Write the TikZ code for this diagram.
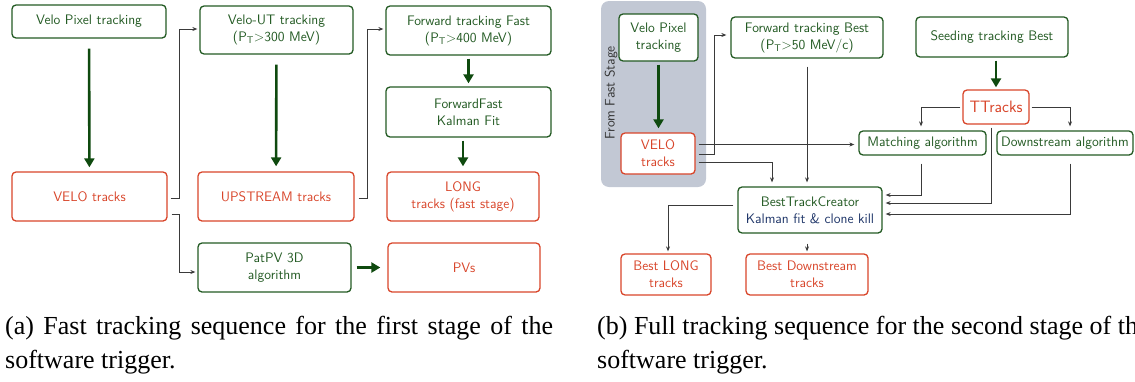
\documentclass[tikz,border=0pt]{standalone}
\usepackage{fontspec}
\newfontfamily\capfont{Liberation Serif}
\usetikzlibrary{arrows.meta}
\definecolor{grn}{HTML}{235A23}
\definecolor{rd}{HTML}{D8452A}
\definecolor{garrow}{HTML}{0F4A0F}
\definecolor{lineclr}{HTML}{3A3A3A}
\definecolor{navy}{HTML}{1E3568}
\definecolor{panelclr}{HTML}{C2C8D4}
\begin{document}
\begin{tikzpicture}[x=1pt,y=-1pt,
  every node/.style={font=\sffamily\fontsize{13.8}{17}\selectfont, align=center, inner sep=0pt},
  gbox/.style={draw=grn, text=grn, line width=1.3pt, rounded corners=4pt},
  rbox/.style={draw=rd, text=rd, line width=1.3pt, rounded corners=4pt},
  bigarrow/.style={draw=garrow, line width=2.6pt, -{Triangle[length=9pt,width=10pt]}},
  link/.style={draw=lineclr, line width=0.8pt, -{Stealth[length=5pt,width=4pt]}},
  caption/.style={font=\capfont\fontsize{26}{34}\selectfont, anchor=base west, align=left},
]
\useasboundingbox (0,0) rectangle (1135,381);

% ---------- (a) fast stage ----------
\node[gbox, minimum width=154pt, minimum height=33pt] (vpt) at (89,21.5) {Velo Pixel tracking};
\node[gbox, minimum width=153pt, minimum height=48pt] (vut) at (276.5,30) {Velo-UT tracking\\(P\textsubscript{T}>300 MeV)};
\node[gbox, minimum width=165pt, minimum height=49pt] (ftf) at (468.5,30.5) {Forward tracking Fast\\(P\textsubscript{T}>400 MeV)};
\node[gbox, minimum width=165pt, minimum height=50pt] (ffk) at (468.5,112) {ForwardFast\\Kalman Fit};
\node[rbox, minimum width=155pt, minimum height=49pt] (velo) at (89.5,196.5) {VELO tracks};
\node[rbox, minimum width=156pt, minimum height=49pt] (up) at (276,196.5) {UPSTREAM tracks};
\node[rbox, minimum width=152pt, minimum height=49pt] (long) at (463,196.5) {LONG\\tracks (fast stage)};
\node[gbox, minimum width=153pt, minimum height=49pt] (patpv) at (274.5,267.5) {PatPV 3D\\algorithm};
\node[rbox, minimum width=152pt, minimum height=49pt] (pvs) at (464,267.5) {PVs};

\draw[bigarrow, shorten <=10pt, shorten >=4pt] (vpt) -- (velo);
\draw[bigarrow, shorten <=10pt, shorten >=5pt] (vut) -- (up);
\draw[bigarrow, shorten <=3pt, shorten >=3pt] (ftf) -- (ffk);
\draw[bigarrow, shorten <=3pt, shorten >=5pt] (ffk.south -| long.north) -- (long.north);
\draw[bigarrow, shorten <=5pt, shorten >=7pt] (patpv) -- (pvs);

\draw[link, shorten >=2pt] ([shift={(3,1.5)}]velo.east) -- ++(9,0) |- ([shift={(0,-1)}]vut.west);
\draw[link, shorten >=2pt] ([shift={(4,17.5)}]velo.east) -- ++(8,0) |- ([shift={(0,4.5)}]patpv.west);
\draw[link, shorten >=2pt] ([shift={(4,1.5)}]up.east) -- ++(9,0) |- ([shift={(0,-1.5)}]ftf.west);

% ---------- (b) second stage ----------
\fill[panelclr, rounded corners=8pt] (601,1) rectangle (706,187);
\node[rotate=90, text=black!80] (from) at (611,93) {From Fast Stage};

\node[gbox, fill=white, minimum width=79pt, minimum height=47pt] (vpb) at (658.5,37.5) {Velo Pixel\\tracking};
\node[rbox, fill=white, minimum width=74pt, minimum height=41pt] (velob) at (658,153.5) {VELO\\tracks};
\node[gbox, minimum width=152pt, minimum height=41pt] (fwb) at (807,37.5) {Forward tracking Best\\(P\textsubscript{T}>50 MeV/c)};
\node[gbox, minimum width=152pt, minimum height=40pt] (seed) at (992,37) {Seeding tracking Best};
\node[rbox, minimum width=66pt, minimum height=34pt, font=\sffamily\fontsize{16.5}{18}\selectfont] (tt) at (996,107) {TTracks};
\node[gbox, minimum width=127pt, minimum height=24pt] (match) at (922.5,143) {Matching algorithm};
\node[gbox, minimum width=136pt, minimum height=24pt] (down) at (1065,143) {Downstream algorithm};
\node[gbox, minimum width=144pt, minimum height=46pt] (btc) at (810,210) {BestTrackCreator\\\textcolor{navy}{Kalman fit \& clone kill}};
\node[rbox, minimum width=90pt, minimum height=41pt] (bl) at (666,274.5) {Best LONG\\tracks};
\node[rbox, minimum width=122pt, minimum height=41pt] (bd) at (807,274.5) {Best Downstream\\tracks};

\draw[bigarrow, shorten <=3pt, shorten >=4pt] (vpb) -- (velob.north -| vpb.south);
\draw[bigarrow, shorten <=3pt, shorten >=2pt] (seed.south -| tt.north) -- (tt.north);

\coordinate (v1) at ([shift={(3,-9)}]velob.east);
\draw[link, shorten >=4pt] (v1) -- (v1 -| match.west);
\draw[link, shorten >=4pt] ([shift={(3,0.5)}]velob.east) -- ++(16,0) |- ([shift={(0,-2.5)}]fwb.west);
\draw[link, shorten >=4pt] ([shift={(3,8.5)}]velob.east) -| ([shift={(-38,0)}]btc.north);
\draw[link, shorten >=4pt] ([shift={(0,8)}]fwb.south) -- ([shift={(-3,0)}]btc.north);

\draw[link, shorten >=4pt] ([shift={(-2,0)}]tt.west) -| ([shift={(-1.5,0)}]match.north);
\draw[link, shorten >=4pt] ([shift={(2,0)}]tt.east) -| ([shift={(5,0)}]down.north);

\draw[link, shorten >=3pt] ([shift={(-1.5,8)}]match.south) |- ([shift={(0,-15)}]btc.east);
\draw[link, shorten >=3pt] ([shift={(-5,3)}]tt.south) |- ([shift={(0,-7)}]btc.east);
\draw[link, shorten >=3pt] ([shift={(5,8)}]down.south) |- ([shift={(0,4)}]btc.east);

\draw[link, shorten >=2pt] ([shift={(-4,-5)}]btc.west) -| ([shift={(2,0)}]bl.north);
\draw[link, shorten >=2pt] ([shift={(-3,10)}]btc.south) -- (bd.north);

% ---------- captions (first line of (a) justified to the column width) ----------
\node[caption] (capa1) at (5,334) {\makebox[548pt][s]{(a) Fast tracking sequence for the first stage of the}};
\node[caption] (capa2) at (5,368) {software trigger.};
\node[caption] (capb1) at (597,334) {(b) Full tracking sequence for the second stage of the};
\node[caption] (capb2) at (597,368) {software trigger.};
\end{tikzpicture}
\end{document}
